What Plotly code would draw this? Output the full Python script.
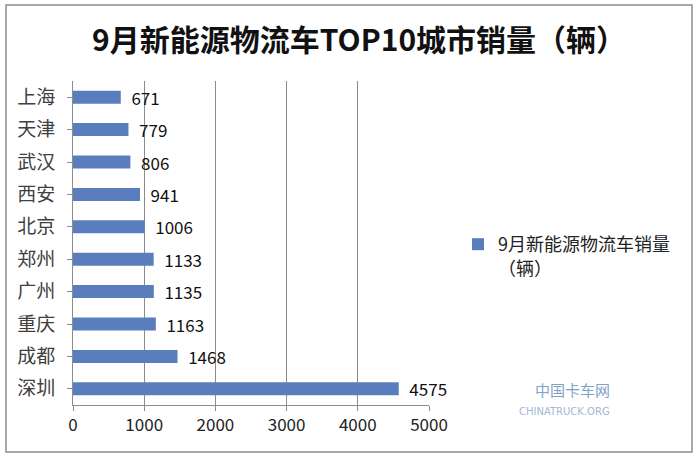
import plotly.graph_objects as go

cities = ["上海", "天津", "武汉", "西安", "北京", "郑州", "广州", "重庆", "成都", "深圳"]
sales = [671, 779, 806, 941, 1006, 1133, 1135, 1163, 1468, 4575]
x_ticks = [0, 1000, 2000, 3000, 4000, 5000]
series_name = "9月新能源物流车销量<br>（辆）"
title_text = "9月新能源物流车TOP10城市销量（辆）"

FONT = "Noto Sans CJK SC"
ML, MR, MT, MB = 73, 271, 81, 57
W, H = 700, 462
PW, PH = W - ML - MR, H - MT - MB

def px_x(p):
    return (p - ML) / PW

def px_y(p):
    return (H - MB - p) / PH

fig = go.Figure(
    go.Bar(
        y=cities,
        x=sales,
        orientation="h",
        name=series_name,
        marker=dict(color="#5A7EBD", line=dict(width=0)),
        text=["  " + str(v) for v in sales],
        textposition="outside",
        constraintext="none",
        textfont=dict(family=FONT, size=17, color="#111111"),
        cliponaxis=False,
        showlegend=True,
        hoverinfo="skip",
    )
)

fig.update_layout(
    width=W,
    height=H,
    margin=dict(l=ML, r=MR, t=MT, b=MB, autoexpand=False),
    paper_bgcolor="white",
    plot_bgcolor="white",
    bargap=0.6,
    title=dict(
        text="<b>" + title_text + "</b>",
        x=0.513,
        xref="container",
        xanchor="center",
        y=1 - 40 / H,
        yref="container",
        yanchor="middle",
        font=dict(family=FONT, size=30, color="#111111"),
    ),
    xaxis=dict(
        range=[0, 5000],
        tickvals=x_ticks,
        ticktext=[str(v) for v in x_ticks],
        showgrid=True,
        gridcolor="#8C8C8C",
        gridwidth=1,
        zeroline=False,
        showline=True,
        linecolor="#8C8C8C",
        ticks="outside",
        ticklen=5,
        tickcolor="#8C8C8C",
        automargin=False,
        tickfont=dict(family=FONT, size=17, color="#222222"),
    ),
    yaxis=dict(
        categoryorder="array",
        categoryarray=cities[::-1],
        autorange=False,
        range=[-0.5, 9.5],
        showgrid=False,
        showline=True,
        linecolor="#8C8C8C",
        ticks="outside",
        ticklen=5,
        tickcolor="#8C8C8C",
        ticklabelstandoff=8,
        automargin=False,
        tickfont=dict(family=FONT, size=19, color="#404040"),
    ),
    legend=dict(
        x=px_x(458),
        y=px_y(226),
        xanchor="left",
        yanchor="top",
        valign="top",
        font=dict(family=FONT, size=18, color="#222222"),
        bgcolor="rgba(0,0,0,0)",
        itemwidth=30,
    ),
    shapes=[
        dict(
            type="rect",
            xref="paper",
            yref="paper",
            x0=px_x(6),
            x1=px_x(692),
            y0=px_y(452),
            y1=px_y(5),
            line=dict(color="#8C8C8C", width=1.5),
            fillcolor="rgba(0,0,0,0)",
            layer="below",
        )
    ],
    annotations=[
        dict(
            text="中国卡车网",
            xref="paper", yref="paper",
            x=px_x(612), y=px_y(402),
            showarrow=False,
            font=dict(family=FONT, size=15, color="#7FA3C8"),
        ),
        dict(
            text="CHINATRUCK.ORG",
            xref="paper", yref="paper",
            x=px_x(612), y=px_y(419),
            showarrow=False,
            font=dict(family="DejaVu Sans", size=10, color="#9FB8D4"),
        ),
    ],
)

fig.write_html(
    "out.html",
    config={"displayModeBar": False},
    post_script="document.body.style.margin='0';",
)
